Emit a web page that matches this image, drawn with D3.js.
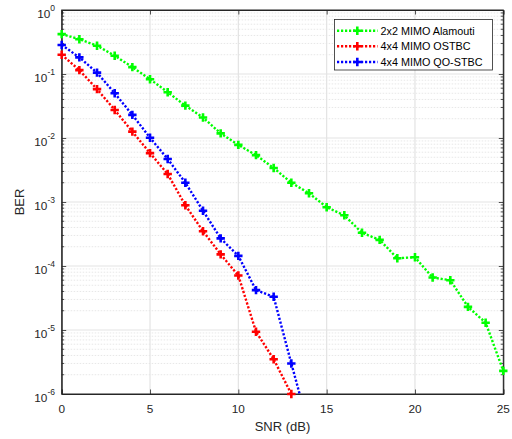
<!DOCTYPE html>
<html><head><meta charset="utf-8">
<script src="https://cdn.jsdelivr.net/npm/d3@7"></script>
<style>body{margin:0;background:#fff}svg{display:block}text{font-family:"Liberation Sans",Arial,sans-serif}</style>
</head><body>
<svg id="c" width="512" height="439"></svg>
<script>
const snrAlamouti = [0,1,2,3,4,5,6,7,8,9,10,11,12,13,14,15,16,17,18,19,20,21,22,23,24,25];
const berAlamouti = [0.42,0.35,0.277,0.193,0.128,0.083,0.052,0.032,0.0209,0.0118,0.0078,0.0054,0.0034,0.0020,0.00137,0.00083,0.00062,0.00033,0.000256,0.000132,0.000137,6.6e-5,6.0e-5,2.3e-5,1.3e-5,2.3e-6];
const snrOstbc = [0,1,2,3,4,5,6,7,8,9,10,11,12,13];
const berOstbc = [0.2,0.115,0.058,0.0274,0.0126,0.0058,0.00274,0.00089,0.00035,0.000152,7.1e-5,9.4e-6,3.5e-6,1.0e-6];
const snrQo = [0,1,2,3,4,5,6,7,8,9,10,11,12,13,14];
const berQo = [0.284,0.182,0.105,0.05,0.023,0.0101,0.0047,0.002,0.00073,0.00027,0.000144,4.2e-5,3.3e-5,3.0e-6,2.9e-7];
const seriesNames = ["2x2 MIMO Alamouti","4x4 MIMO OSTBC","4x4 MIMO QO-STBC"];
const seriesColors = ["#00ff00","#ff0000","#0000ff"];
const xTicks = [0,5,10,15,20,25];
const yExps = [0,-1,-2,-3,-4,-5,-6];

const series = [
  {name:seriesNames[0], color:seriesColors[0], xs:snrAlamouti, ys:berAlamouti},
  {name:seriesNames[1], color:seriesColors[1], xs:snrOstbc, ys:berOstbc},
  {name:seriesNames[2], color:seriesColors[2], xs:snrQo, ys:berQo}
];

const L=61.7, R=503.3, T=10, B=394;
const svg = d3.select("#c");
const x = d3.scaleLinear().domain([0,25]).range([L,R]);
const y = d3.scaleLog().domain([1e-6,1]).range([B,T]);
const axisCol="#262626";

const g = svg.append("g");
const minors=[];
for(let e=-6;e<0;e++){for(let m=2;m<=9;m++){minors.push(m*Math.pow(10,e));}}
g.selectAll(".ym").data(minors).enter().append("line")
 .attr("x1",L).attr("x2",R).attr("y1",d=>y(d)).attr("y2",d=>y(d))
 .attr("stroke","#dcdcdc").attr("stroke-width",0.7).attr("stroke-dasharray","1.5,1.5");
g.selectAll(".yM").data(yExps.slice(1,-1)).enter().append("line")
 .attr("x1",L).attr("x2",R).attr("y1",d=>y(Math.pow(10,d))).attr("y2",d=>y(Math.pow(10,d)))
 .attr("stroke","#e3e3e3").attr("stroke-width",1.2);
g.selectAll(".xM").data(xTicks.slice(1,-1)).enter().append("line")
 .attr("y1",T).attr("y2",B).attr("x1",d=>x(d)).attr("x2",d=>x(d))
 .attr("stroke","#e3e3e3").attr("stroke-width",1.2);

const xAxis = d3.axisBottom(x).tickValues(xTicks).tickSize(-4.5).tickFormat("");
const xAxisTop = d3.axisTop(x).tickValues(xTicks).tickSize(-4.5).tickFormat("");
const yAxis = d3.axisLeft(y).tickValues(yExps.map(e=>Math.pow(10,e))).tickSize(-4.5).tickFormat("");
const yAxisR = d3.axisRight(y).tickValues(yExps.map(e=>Math.pow(10,e))).tickSize(-4.5).tickFormat("");
function style(sel){sel.select(".domain").attr("stroke",axisCol).attr("stroke-width",1);sel.selectAll(".tick line").attr("stroke",axisCol).attr("stroke-width",0.8);}
svg.append("g").attr("transform",`translate(0,${B})`).call(xAxis).call(style);
svg.append("g").attr("transform",`translate(0,${T})`).call(xAxisTop).call(style);
svg.append("g").attr("transform",`translate(${L},0)`).call(yAxis).call(style);
svg.append("g").attr("transform",`translate(${R},0)`).call(yAxisR).call(style);
[L,R].forEach((px,i)=>{
  svg.append("g").selectAll("line").data(minors).enter().append("line")
   .attr("x1",px).attr("x2",i===0?px+2.5:px-2.5).attr("y1",d=>y(d)).attr("y2",d=>y(d))
   .attr("stroke",axisCol).attr("stroke-width",0.8);
});
svg.append("rect").attr("x",L).attr("y",T).attr("width",R-L).attr("height",B-T)
 .attr("fill","none").attr("stroke",axisCol).attr("stroke-width",1);

svg.append("g").selectAll("text").data(xTicks).enter().append("text")
 .attr("x",d=>x(d)).attr("y",B+19).attr("text-anchor","middle")
 .attr("font-size",11.8).attr("fill",axisCol).text(d=>d);
const yl = svg.append("g").selectAll("text").data(yExps).enter().append("text")
 .attr("x",55).attr("y",d=>y(Math.pow(10,d))+8).attr("text-anchor","end")
 .attr("font-size",11.8).attr("fill",axisCol);
yl.append("tspan").text("10");
yl.append("tspan").attr("dy",-7).attr("font-size",8.5).text(d=>d);

svg.append("text").attr("x",(L+R)/2).attr("y",431).attr("text-anchor","middle")
 .attr("font-size",13).attr("fill",axisCol).text("SNR (dB)");
svg.append("text").attr("transform",`translate(24,${(T+B)/2}) rotate(-90)`).attr("text-anchor","middle")
 .attr("font-size",13).attr("fill",axisCol).text("BER");

svg.append("clipPath").attr("id","clip").append("rect").attr("x",L).attr("y",T).attr("width",R-L).attr("height",B-T);

const line = d3.line().x(d=>x(d[0])).y(d=>y(d[1]));
const plus = (sel,size)=>sel.attr("d",`M${-size},0H${size}M0,${-size}V${size}`);
series.forEach(s=>{
  const pts = s.xs.map((v,i)=>[v,s.ys[i]]);
  svg.append("path").datum(pts).attr("clip-path","url(#clip)").attr("d",line)
    .attr("fill","none").attr("stroke",s.color).attr("stroke-width",2.4).attr("stroke-dasharray","2.2,1.8");
  svg.append("g").selectAll("path").data(pts.filter(p=>p[1]>=0.99e-6)).enter().append("path")
    .attr("transform",p=>`translate(${x(p[0])},${y(p[1])})`).call(plus,4.2)
    .attr("stroke",s.color).attr("stroke-width",2.6).attr("fill","none");
});

const lg = svg.append("g");
lg.append("rect").attr("x",334.5).attr("y",19.5).attr("width",158).attr("height",50.5)
  .attr("fill","#fff").attr("stroke",axisCol).attr("stroke-width",0.8);
const rowY=[30.7,46.3,62];
series.forEach((s,i)=>{
  lg.append("line").attr("x1",337).attr("x2",377.5).attr("y1",rowY[i]).attr("y2",rowY[i])
    .attr("stroke",s.color).attr("stroke-width",2.4).attr("stroke-dasharray","2.2,1.8");
  lg.append("path").attr("transform",`translate(357.3,${rowY[i]})`).call(plus,4.2)
    .attr("stroke",s.color).attr("stroke-width",2.6);
  lg.append("text").attr("x",380.5).attr("y",rowY[i]+3.8).attr("font-size",10.8)
    .attr("fill","#000").text(s.name);
});
</script>
</body></html>
